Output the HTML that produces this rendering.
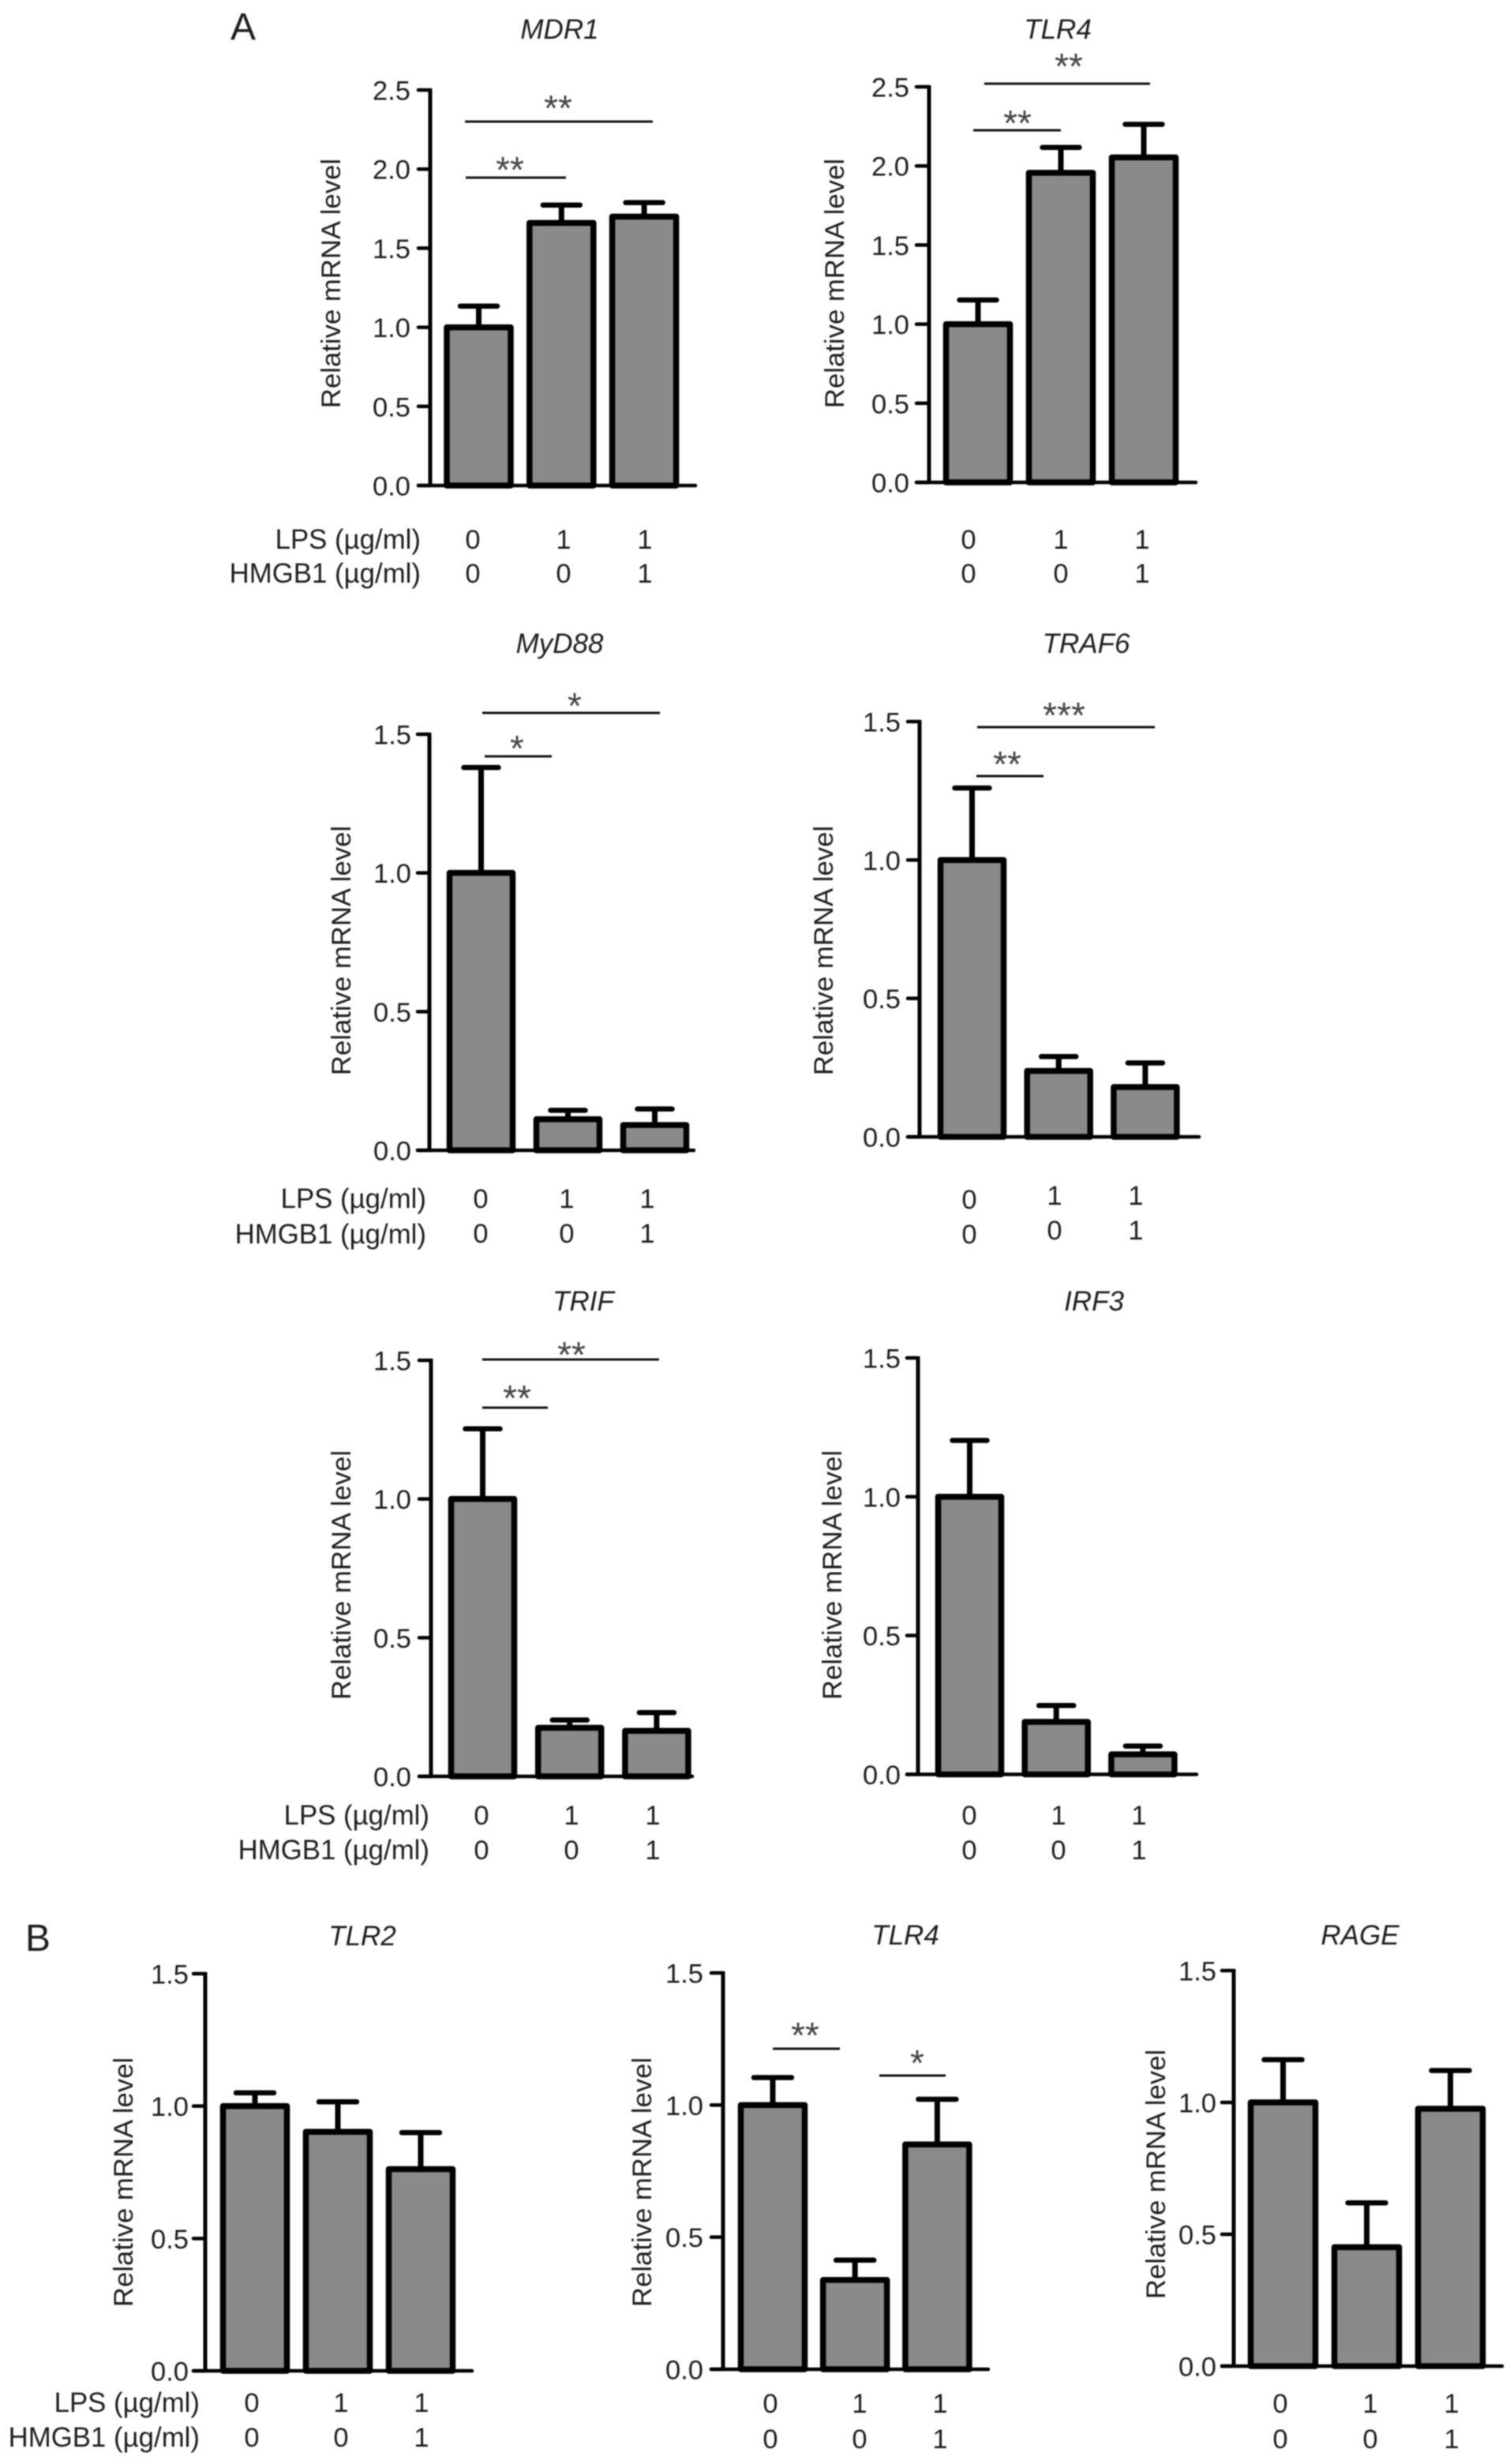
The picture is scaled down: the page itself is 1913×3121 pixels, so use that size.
<!DOCTYPE html>
<html lang="en">
<head>
<meta charset="utf-8">
<title>Relative mRNA levels after LPS and HMGB1 treatment</title>
<style>
html,body{margin:0;padding:0;background:#fff;width:1913px;height:3121px;overflow:hidden}
svg{display:block;filter:blur(.7px)}
text{font-family:"Liberation Sans",sans-serif;fill:#1e1e1e}
.title{font-size:35px;font-style:italic;text-anchor:middle}
.ylab{font-size:34.7px;text-anchor:middle}
.row{font-size:34.8px;text-anchor:end}
.letter{font-size:48px}
.tick{font-size:34.5px;text-anchor:end}
.dose{font-size:34.5px;text-anchor:middle}
.star{font-size:46px;text-anchor:middle;fill:#444}
</style>
</head>
<body>
<svg id="fig" xmlns="http://www.w3.org/2000/svg" width="1913" height="3121" viewBox="0 0 1913 3121">
  <text class="letter" x="292" y="50">A</text>
  <text class="letter" x="32" y="2471">B</text>

  <text class="title" x="709" y="49">MDR1</text>
  <text class="title" x="1340" y="49">TLR4</text>
  <text class="title" x="709" y="827">MyD88</text>
  <text class="title" x="1376" y="827">TRAF6</text>
  <text class="title" x="739" y="1660">TRIF</text>
  <text class="title" x="1386" y="1660">IRF3</text>
  <text class="title" x="459" y="2464">TLR2</text>
  <text class="title" x="1147" y="2463">TLR4</text>
  <text class="title" x="1723" y="2463">RAGE</text>

  <text class="ylab" transform="translate(431 359) rotate(-90)">Relative mRNA level</text>
  <text class="ylab" transform="translate(1069 359) rotate(-90)">Relative mRNA level</text>
  <text class="ylab" transform="translate(444 1204) rotate(-90)">Relative mRNA level</text>
  <text class="ylab" transform="translate(1055 1204) rotate(-90)">Relative mRNA level</text>
  <text class="ylab" transform="translate(444 1995) rotate(-90)">Relative mRNA level</text>
  <text class="ylab" transform="translate(1066 1995) rotate(-90)">Relative mRNA level</text>
  <text class="ylab" transform="translate(168 2764) rotate(-90)">Relative mRNA level</text>
  <text class="ylab" transform="translate(825 2764) rotate(-90)">Relative mRNA level</text>
  <text class="ylab" transform="translate(1476 2754) rotate(-90)">Relative mRNA level</text>

  <text class="row" x="533" y="695">LPS (µg/ml)</text>
  <text class="row" x="533" y="738">HMGB1 (µg/ml)</text>
  <text class="row" x="540" y="1530">LPS (µg/ml)</text>
  <text class="row" x="540" y="1575">HMGB1 (µg/ml)</text>
  <text class="row" x="544" y="2311">LPS (µg/ml)</text>
  <text class="row" x="544" y="2355">HMGB1 (µg/ml)</text>
  <text class="row" x="253" y="3055">LPS (µg/ml)</text>
  <text class="row" x="253" y="3099">HMGB1 (µg/ml)</text>
</svg>

<script>
// ---- Data ----
const lpsDoses = [0, 1, 1];
const hmgb1Doses = [0, 0, 1];
const ticksTo25 = [0, 0.5, 1, 1.5, 2, 2.5];
const ticksTo15 = [0, 0.5, 1, 1.5];

const mdr1Means = [1.0, 1.66, 1.70];
const mdr1Upper = [1.134, 1.773, 1.788];
const tlr4aMeans = [1.0, 1.957, 2.054];
const tlr4aUpper = [1.153, 2.117, 2.263];
const myd88Means = [1.0, 0.112, 0.091];
const myd88Upper = [1.38, 0.144, 0.149];
const traf6Means = [1.0, 0.238, 0.18];
const traf6Upper = [1.26, 0.29, 0.267];
const trifMeans = [1.0, 0.175, 0.164];
const trifUpper = [1.253, 0.203, 0.23];
const irf3Means = [1.0, 0.189, 0.072];
const irf3Upper = [1.203, 0.248, 0.102];
const tlr2Means = [1.0, 0.903, 0.762];
const tlr2Upper = [1.05, 1.016, 0.90];
const tlr4bMeans = [1.0, 0.338, 0.851];
const tlr4bUpper = [1.104, 0.413, 1.022];
const rageMeans = [1.0, 0.451, 0.976];
const rageUpper = [1.162, 0.619, 1.121];

// ---- Panel geometry (layout only) ----
const panels = [
  {gene:'mdr1', means:mdr1Means, upper:mdr1Upper, ticks:ticksTo25, axisX:545, yTop:114, yZero:615, tickLeft:530, xEnd:881, tickRight:520, barLeft:562.5, barStep:104.8, barW:88, capW:47,
   lpsX:[599,714,817], hmgX:[599,714,817], lpsY:695, hmgY:738,
   brackets:[{x1:589,x2:827,y:154,stars:'**',sx:707,sy:127},{x1:590,x2:717,y:225,stars:'**',sx:646,sy:205}]},
  {gene:'tlr4-a', means:tlr4aMeans, upper:tlr4aUpper, ticks:ticksTo25, axisX:1177, yTop:110, yZero:611, tickLeft:1161, xEnd:1515, tickRight:1152, barLeft:1195, barStep:105, barW:88, capW:47,
   lpsX:[1227,1344,1447], hmgX:[1227,1344,1447], lpsY:695, hmgY:738,
   brackets:[{x1:1247,x2:1457,y:106,stars:'**',sx:1354,sy:74},{x1:1233,x2:1344,y:165,stars:'**',sx:1289,sy:146}]},
  {gene:'myd88', means:myd88Means, upper:myd88Upper, ticks:ticksTo15, axisX:544, yTop:930, yZero:1457, tickLeft:529, xEnd:879, tickRight:521, barLeft:566, barStep:110, barW:87, capW:44,
   lpsX:[609,718,820], hmgX:[609,718,820], lpsY:1530, hmgY:1574,
   brackets:[{x1:611,x2:836,y:903,stars:'*',sx:728,sy:884},{x1:614,x2:699,y:958,stars:'*',sx:655,sy:938}]},
  {gene:'traf6', means:traf6Means, upper:traf6Upper, ticks:ticksTo15, axisX:1165, yTop:914, yZero:1440, tickLeft:1150, xEnd:1519, tickRight:1141, barLeft:1188, barStep:109.7, barW:87, capW:44,
   lpsX:[1228,1336,1439], hmgX:[1228,1336,1439], lpsY:[1531,1526,1526], hmgY:[1575,1570,1570],
   brackets:[{x1:1238,x2:1463,y:921,stars:'***',sx:1348,sy:896},{x1:1237,x2:1322,y:983,stars:'**',sx:1276,sy:958}]},
  {gene:'trif', means:trifMeans, upper:trifUpper, ticks:ticksTo15, axisX:546, yTop:1723, yZero:2250, tickLeft:531, xEnd:877, tickRight:521, barLeft:568, barStep:110.2, barW:87, capW:44,
   lpsX:[610,724,827], hmgX:[610,724,827], lpsY:2311, hmgY:2355,
   brackets:[{x1:611,x2:835,y:1722,stars:'**',sx:724,sy:1706},{x1:611,x2:694,y:1783,stars:'**',sx:655,sy:1761}]},
  {gene:'irf3', means:irf3Means, upper:irf3Upper, ticks:ticksTo15, axisX:1163, yTop:1720, yZero:2247.5, tickLeft:1149, xEnd:1516, tickRight:1141, barLeft:1185, barStep:109.7, barW:87, capW:44,
   lpsX:[1228,1341,1443], hmgX:[1228,1341,1443], lpsY:2311, hmgY:2355,
   brackets:[]},
  {gene:'tlr2', means:tlr2Means, upper:tlr2Upper, ticks:ticksTo15, axisX:260, yTop:2500, yZero:3003, tickLeft:245, xEnd:598, tickRight:239, barLeft:279, barStep:105, barW:88, capW:48,
   lpsX:[319,432,534], hmgX:[319,432,534], lpsY:3055, hmgY:3099,
   brackets:[]},
  {gene:'tlr4-b', means:tlr4bMeans, upper:tlr4bUpper, ticks:ticksTo15, axisX:916, yTop:2499, yZero:3001, tickLeft:901, xEnd:1252, tickRight:891, barLeft:935, barStep:104.2, barW:88, capW:48,
   lpsX:[976,1089,1191], hmgX:[976,1089,1191], lpsY:3056, hmgY:3101,
   brackets:[{x1:979,x2:1064,y:2595,stars:'**',sx:1020,sy:2568},{x1:1114,x2:1198,y:2629,stars:'*',sx:1162,sy:2603}]},
  {gene:'rage', means:rageMeans, upper:rageUpper, ticks:ticksTo15, axisX:1563, yTop:2496, yZero:2997, tickLeft:1548, xEnd:1903, tickRight:1541, barLeft:1581, barStep:106, barW:89, capW:48,
   lpsX:[1622,1736,1839], hmgX:[1622,1736,1839], lpsY:3056, hmgY:3101,
   brackets:[]}
];

const SVG_NS = 'http://www.w3.org/2000/svg';
const fig = document.getElementById('fig');

function shape(parent, tag, props, content) {
  const node = document.createElementNS(SVG_NS, tag);
  for (const key in props) node.setAttribute(key, props[key]);
  if (content !== undefined) node.textContent = content;
  parent.appendChild(node);
  return node;
}

function makeYScale(p) {
  const maxTick = p.ticks[p.ticks.length - 1];
  return v => p.yZero - (v / maxTick) * (p.yZero - p.yTop);
}
function makeBarX(p) {
  return i => p.barLeft + i * p.barStep;
}

panels.forEach(p => {
  const yScale = makeYScale(p);
  const barX = makeBarX(p);

  const group = shape(fig, 'g', {});
  
  

  p.means.forEach((mean, i) => {
    const left = barX(i);
    const cx = left + p.barW / 2;

    const errLine = shape(group, 'line', {x1:cx, x2:cx, y1:yScale(mean), y2:yScale(p.upper[i]), stroke:'#000', 'stroke-width':7});
    
    

    const errCap = shape(group, 'line', {x1:cx - p.capW / 2, x2:cx + p.capW / 2, y1:yScale(p.upper[i]), y2:yScale(p.upper[i]), stroke:'#000', 'stroke-width':6.5, 'stroke-linecap':'round'});
    
    

    const bar = shape(group, 'rect', {x:left + 3.5, y:yScale(mean), width:p.barW - 7, height:p.yZero - yScale(mean), fill:'#8a8a8a', stroke:'#000', 'stroke-width':7.5, 'stroke-linejoin':'round'});
    
    
  });

  const yAxis = shape(group, 'line', {x1:p.axisX, x2:p.axisX, y1:p.yTop - 2, y2:p.yZero, stroke:'#000', 'stroke-width':5});
  
  

  const xAxis = shape(group, 'line', {x1:p.tickLeft, x2:p.xEnd, y1:p.yZero, y2:p.yZero, stroke:'#000', 'stroke-width':4.5, 'stroke-linecap':'round'});
  
  

  p.ticks.forEach(t => {
    const tickMark = shape(group, 'line', {x1:p.tickLeft, x2:p.axisX, y1:yScale(t), y2:yScale(t), stroke:'#000', 'stroke-width':4.5, 'stroke-linecap':'round'});
    
    

    const tickLabel = shape(group, 'text', {class:'tick', x:p.tickRight, y:yScale(t) + 12.5}, t.toFixed(1));
    
    
  });

  lpsDoses.forEach((dose, i) => {
    const y = Array.isArray(p.lpsY) ? p.lpsY[i] : p.lpsY;
    const lpsText = shape(group, 'text', {class:'dose', x:p.lpsX[i], y:y}, String(dose));
    
    
  });

  hmgb1Doses.forEach((dose, i) => {
    const y = Array.isArray(p.hmgY) ? p.hmgY[i] : p.hmgY;
    const hmgText = shape(group, 'text', {class:'dose', x:p.hmgX[i], y:y}, String(dose));
    
    
  });

  p.brackets.forEach((b, i) => {
    const line = shape(group, 'line', {x1:b.x1, x2:b.x2, y1:b.y, y2:b.y, stroke:'#111', 'stroke-width':3});
    
    

    const stars = shape(group, 'text', {class:'star', x:b.sx, y:b.sy + 26}, b.stars);
    
    
  });
});
</script>
</body>
</html>
